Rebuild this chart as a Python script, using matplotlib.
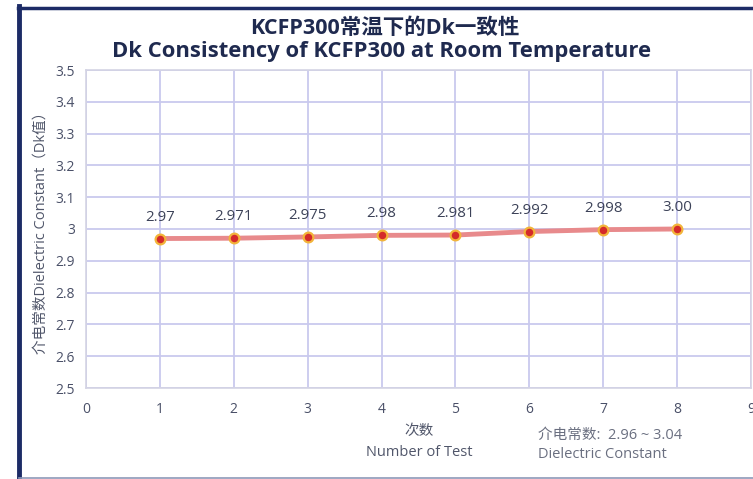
import matplotlib
matplotlib.use("Agg")
import matplotlib.pyplot as plt
from matplotlib.lines import Line2D

plt.rcParams['font.family'] = ['Open Sans', 'Noto Sans CJK SC', 'DejaVu Sans']

tests = [1, 2, 3, 4, 5, 6, 7, 8]
dk_values = [2.97, 2.971, 2.975, 2.98, 2.981, 2.992, 2.998, 3.00]
value_labels = ["2.97", "2.971", "2.975", "2.98", "2.981", "2.992", "2.998", "3.00"]
x_ticks = [0, 1, 2, 3, 4, 5, 6, 7, 8, 9]
y_ticks = [2.5, 2.6, 2.7, 2.8, 2.9, 3.0, 3.1, 3.2, 3.3, 3.4, 3.5]
y_tick_labels = ["2.5", "2.6", "2.7", "2.8", "2.9", "3", "3.1", "3.2", "3.3", "3.4", "3.5"]

W, H = 753, 479
fig = plt.figure(figsize=(W / 100, H / 100), dpi=100)
fig.patch.set_facecolor("white")

# frame borders
navy = "#1c2b66"
fig.add_artist(Line2D([19 / W, 19 / W], [0, 1 - 6 / H], color=navy, lw=3.5, transform=fig.transFigure))
fig.add_artist(Line2D([17.5 / W, 1], [1 - 7.5 / H, 1 - 7.5 / H], color=navy, lw=2.5, transform=fig.transFigure))
fig.add_artist(Line2D([19 / W, 1], [1 - 477.5 / H, 1 - 477.5 / H], color="#8d98b8", lw=1.2, transform=fig.transFigure))

ax = fig.add_axes([86 / W, 1 - 388 / H, (751 - 86) / W, (388 - 70) / H])
ax.set_xlim(0, 9)
ax.set_ylim(2.5, 3.5)
ax.set_xticks(x_ticks)
ax.set_yticks(y_ticks)
ax.set_yticklabels(y_tick_labels)
ax.grid(True, color="#c9c9ee", lw=1.3)
ax.set_axisbelow(True)
for s in ax.spines.values():
    s.set_color("#d4d4e4")
    s.set_linewidth(1.2)
ax.tick_params(length=0, labelsize=10, colors="#4a5068")
ax.tick_params(axis="x", pad=10)
ax.tick_params(axis="y", pad=8)

ax.plot(tests, dk_values, color="#e88a8c", lw=3.5, zorder=3)
ax.plot(tests, dk_values, linestyle="none", marker="o", markersize=7,
        markerfacecolor="#d42a2a", markeredgecolor="#f2b43a", markeredgewidth=1.6, zorder=4)
for x, y, t in zip(tests, dk_values, value_labels):
    ax.annotate(t, (x, y), xytext=(0, 10), textcoords="offset points",
                ha="center", va="bottom", fontsize=10.8, color="#3c4258")

ax.set_ylabel("介电常数Dielectric Constant（Dk值）", fontsize=10.5, color="#50566a")
ax.yaxis.set_label_coords(-0.056, 0.5)

title_color = "#1f2a4f"
fig.text(385 / W, 1 - 28 / H, "KCFP300常温下的Dk一致性", ha="center", va="center",
         fontsize=15.5, fontweight="bold", color=title_color)
fig.text(382 / W, 1 - 52 / H, "Dk Consistency of KCFP300 at Room Temperature", ha="center", va="center",
         fontsize=15.8, fontweight="bold", color=title_color)

fig.text(419 / W, 1 - 432 / H, "次数", ha="center", va="center", fontsize=10.5, color="#50566a")
fig.text(419 / W, 1 - 452 / H, "Number of Test", ha="center", va="center", fontsize=10.5, color="#50566a")
fig.text(538 / W, 1 - 435 / H, "介电常数:  2.96 ~ 3.04", ha="left", va="center", fontsize=10.5, color="#6a6f80")
fig.text(538 / W, 1 - 455 / H, "Dielectric Constant", ha="left", va="center", fontsize=10.5, color="#6a6f80")

fig.savefig("out.png", dpi=100)
